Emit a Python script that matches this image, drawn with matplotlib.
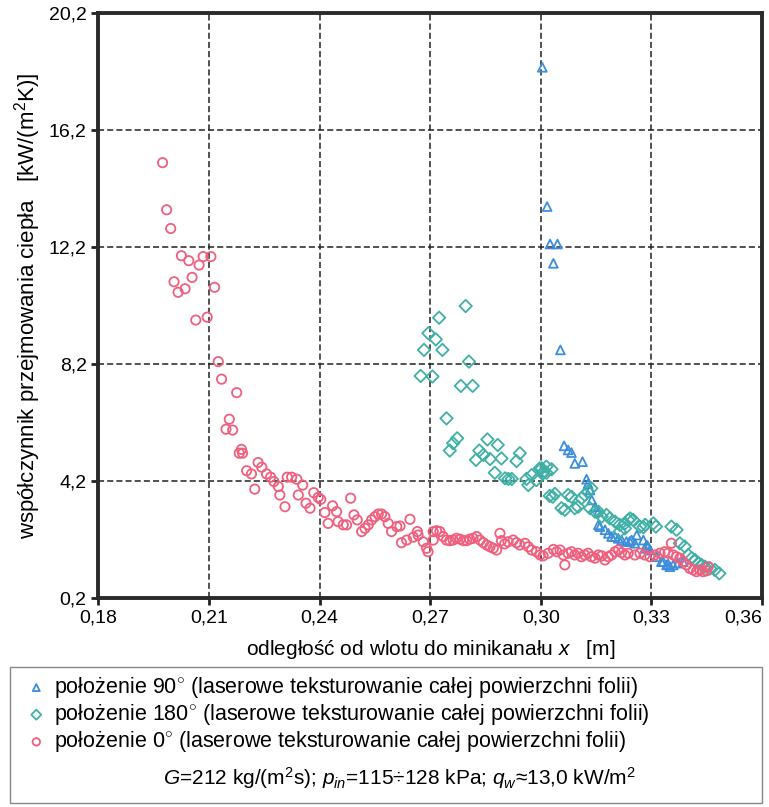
import matplotlib.pyplot as plt
from matplotlib.patches import Rectangle

plt.rcParams['font.family'] = ['Liberation Sans', 'DejaVu Sans']
plt.rcParams['mathtext.fontset'] = 'custom'
plt.rcParams['mathtext.rm'] = 'Liberation Sans'
plt.rcParams['mathtext.it'] = 'Liberation Sans:italic'

# polozenie 90 (triangles)
x90 = [0.3004, 0.3017, 0.3025, 0.3045, 0.3034, 0.3053, 0.3063, 0.3074, 0.3083, 0.3092,
       0.3113, 0.3124, 0.3128, 0.3133, 0.3138, 0.3147, 0.3156, 0.3156, 0.3160, 0.3174,
       0.3183, 0.3192, 0.3201, 0.3210, 0.3219, 0.3232, 0.3241, 0.3246, 0.3255, 0.3260,
       0.3278, 0.3282, 0.3287, 0.3291, 0.3296, 0.3314, 0.3327, 0.3332, 0.3341, 0.3345,
       0.3350, 0.3359, 0.3372, 0.3386]
y90 = [18.34, 13.58, 12.30, 12.30, 11.64, 8.68, 5.40, 5.26, 5.17, 4.80,
       4.86, 4.26, 4.10, 3.89, 3.55, 3.32, 3.15, 2.70, 2.64, 2.53,
       2.41, 2.30, 2.30, 2.24, 2.18, 2.13, 2.13, 2.18, 2.07, 2.35,
       2.18, 1.90, 2.01, 1.96, 1.84, 1.61, 1.44, 1.44, 1.33, 1.36,
       1.27, 1.33, 1.39, 1.44]

# polozenie 180 (diamonds)
x180 = [0.2796, 0.2724, 0.2695, 0.2715, 0.2683, 0.2733, 0.2805, 0.2674, 0.2706, 0.2783,
        0.2815, 0.2744, 0.2773, 0.2762, 0.2753, 0.2855, 0.2883, 0.2833, 0.2844, 0.2824,
        0.2862, 0.2893, 0.2943, 0.2934, 0.2875, 0.2903, 0.2912, 0.2921, 0.2961, 0.2975,
        0.2988, 0.2997, 0.3008, 0.3015, 0.2966, 0.3002, 0.3015, 0.3029, 0.3006, 0.3024,
        0.3032, 0.3038, 0.3074, 0.3083, 0.3056, 0.3065, 0.3092, 0.3101, 0.3110, 0.3119,
        0.3128, 0.3137, 0.3133, 0.3147, 0.3156, 0.3165, 0.3178, 0.3187, 0.3201, 0.3214,
        0.3228, 0.3237, 0.3242, 0.3214, 0.3228, 0.3269, 0.3278, 0.3250, 0.3283, 0.3305,
        0.3312, 0.3354, 0.3368, 0.3377, 0.3390, 0.3400, 0.3409, 0.3418, 0.3427, 0.3436,
        0.3445, 0.3459, 0.3472, 0.3484]
y180 = [10.18, 9.78, 9.25, 9.04, 8.68, 8.68, 8.28, 7.79, 7.77, 7.45,
        7.45, 6.34, 5.66, 5.49, 5.24, 5.62, 5.43, 5.24, 5.09, 4.92,
        4.95, 4.97, 5.15, 4.88, 4.48, 4.29, 4.27, 4.27, 4.27, 4.40,
        4.23, 4.63, 4.52, 4.48, 4.06, 4.63, 4.69, 4.60, 4.46, 3.69,
        3.66, 3.76, 3.72, 3.66, 3.27, 3.21, 3.27, 3.32, 3.61, 3.72,
        3.84, 3.95, 3.27, 3.15, 3.15, 2.98, 3.04, 2.92, 2.81, 2.70,
        2.75, 2.87, 2.92, 2.47, 2.58, 2.64, 2.62, 2.87, 2.70, 2.75,
        2.64, 2.64, 2.53, 2.07, 1.96, 1.67, 1.56, 1.50, 1.39, 1.33,
        1.27, 1.21, 1.16, 1.04]

# polozenie 0 (circles)
x0 = [0.1974, 0.1985, 0.1996, 0.2005, 0.2016, 0.2025, 0.2035, 0.2045, 0.2054, 0.2064,
      0.2073, 0.2084, 0.2095, 0.2105, 0.2115, 0.2125, 0.2134, 0.2146, 0.2155, 0.2164,
      0.2175, 0.2188, 0.2182, 0.2191, 0.2202, 0.2215, 0.2224, 0.2233, 0.2243, 0.2256,
      0.2267, 0.2276, 0.2288, 0.2292, 0.2306, 0.2312, 0.2324, 0.2338, 0.2342, 0.2354,
      0.2363, 0.2374, 0.2384, 0.2396, 0.2403, 0.2414, 0.2423, 0.2435, 0.2446, 0.2450,
      0.2464, 0.2473, 0.2484, 0.2493, 0.2502, 0.2514, 0.2523, 0.2532, 0.2541, 0.2550,
      0.2559, 0.2568, 0.2577, 0.2586, 0.2595, 0.2609, 0.2618, 0.2622, 0.2636, 0.2645,
      0.2654, 0.2667, 0.2665, 0.2681, 0.2690, 0.2694, 0.2708, 0.2717, 0.2726, 0.2708,
      0.2735, 0.2744, 0.2753, 0.2762, 0.2771, 0.2781, 0.2790, 0.2799, 0.2807, 0.2816,
      0.2826, 0.2835, 0.2844, 0.2853, 0.2862, 0.2871, 0.2880, 0.2889, 0.2893, 0.2902,
      0.2911, 0.2925, 0.2934, 0.2943, 0.2957, 0.2966, 0.2975, 0.2988, 0.2998, 0.3006,
      0.3020, 0.3034, 0.3043, 0.3052, 0.3061, 0.3065, 0.3074, 0.3083, 0.3092, 0.3101,
      0.3110, 0.3119, 0.3128, 0.3137, 0.3147, 0.3156, 0.3165, 0.3174, 0.3183, 0.3192,
      0.3201, 0.3210, 0.3219, 0.3228, 0.3237, 0.3255, 0.3269, 0.3282, 0.3296, 0.3309,
      0.3323, 0.3336, 0.3345, 0.3354, 0.3359, 0.3368, 0.3377, 0.3386, 0.3395, 0.3404,
      0.3413, 0.3422, 0.3431, 0.3440, 0.3449, 0.3454]
y0 = [15.08, 13.47, 12.83, 11.01, 10.65, 11.90, 10.77, 11.73, 11.16, 9.70,
      11.58, 11.87, 9.80, 11.87, 10.82, 8.28, 7.68, 5.97, 6.31, 5.94,
      7.22, 5.28, 5.15, 5.15, 4.55, 4.44, 3.92, 4.83, 4.67, 4.44,
      4.33, 4.18, 4.01, 3.72, 3.32, 4.33, 4.33, 4.26, 3.72, 4.06,
      3.44, 3.27, 3.80, 3.64, 3.57, 3.12, 2.75, 3.35, 3.15, 2.81,
      2.70, 2.70, 3.61, 3.04, 2.87, 2.47, 2.58, 2.70, 2.87, 2.98,
      3.07, 3.07, 2.98, 2.75, 2.47, 2.64, 2.66, 2.09, 2.18, 2.89,
      2.28, 2.35, 2.47, 2.12, 1.90, 1.78, 2.47, 2.50, 2.47, 2.18,
      2.30, 2.18, 2.16, 2.18, 2.24, 2.21, 2.16, 2.16, 2.21, 2.24,
      2.30, 2.18, 2.09, 2.01, 1.95, 1.90, 1.84, 2.41, 2.16, 2.05,
      2.12, 2.18, 2.09, 2.01, 2.07, 1.95, 1.84, 1.78, 1.67, 1.64,
      1.73, 1.86, 1.78, 1.84, 1.67, 1.33, 1.73, 1.78, 1.67, 1.73,
      1.61, 1.67, 1.73, 1.61, 1.56, 1.67, 1.64, 1.50, 1.61, 1.67,
      1.78, 1.84, 1.75, 1.67, 1.73, 1.67, 1.73, 1.67, 1.61, 1.67,
      1.73, 1.78, 1.73, 2.07, 1.67, 1.61, 1.56, 1.44, 1.33, 1.21,
      1.16, 1.10, 1.16, 1.10, 1.13, 1.27]

xticks = [0.18, 0.21, 0.24, 0.27, 0.30, 0.33, 0.36]
xlabels = ['0,18', '0,21', '0,24', '0,27', '0,30', '0,33', '0,36']
yticks = [0.2, 4.2, 8.2, 12.2, 16.2, 20.2]
ylabels = ['0,2', '4,2', '8,2', '12,2', '16,2', '20,2']

c90 = '#3c8edc'
c180 = '#3fb0a6'
c0 = '#f0607e'
tail = ' (laserowe teksturowanie całej powierzchni folii)'

fig = plt.figure(figsize=(7.69, 8.07), dpi=100)
ax = fig.add_axes([0.128, 0.259, 0.863, 0.725])

ax.scatter(x90, y90, s=40, marker='^', facecolors='none', edgecolors=c90, linewidths=1.3,
           label='położenie 90$^{\\circ}$' + tail)
ax.scatter(x180, y180, s=40, marker='D', facecolors='none', edgecolors=c180, linewidths=1.3,
           label='położenie 180$^{\\circ}$' + tail)
ax.scatter(x0, y0, s=45, marker='o', facecolors='none', edgecolors=c0, linewidths=1.3,
           label='położenie 0$^{\\circ}$' + tail)

ax.set_xlim(0.18, 0.36)
ax.set_ylim(0.2, 20.2)
ax.set_xticks(xticks)
ax.set_xticklabels(xlabels)
ax.set_yticks(yticks)
ax.set_yticklabels(ylabels)
ax.tick_params(labelsize=14, length=5, width=2, color='#222222', direction='out')
ax.get_xticklabels()[-1].set_horizontalalignment('right')
ax.grid(True, color='#222222', linestyle=(0, (4, 2)), linewidth=1.1)
ax.set_axisbelow(True)
for sp in ax.spines.values():
    sp.set_linewidth(2.8)
    sp.set_color('#2a2a2a')

ax.set_xlabel('odległość od wlotu do minikanału $x$   [m]', fontsize=15, labelpad=8)
ax.set_ylabel('współczynnik przejmowania ciepła   [kW/(m$^2$K)]', fontsize=16, labelpad=4)

h, l = ax.get_legend_handles_labels()
fig.legend(h, l, loc='upper left', bbox_to_anchor=(0.022, 0.174),
           frameon=False, fontsize=15.5, handletextpad=0.3, labelspacing=0.1,
           handlelength=1.0, markerscale=0.8, borderaxespad=0.0)

fig.patches.append(Rectangle((0.013, 0.005), 0.978, 0.168, transform=fig.transFigure,
                             fill=False, edgecolor='#888888', linewidth=1.0))
fig.text(0.52, 0.036, '$G$=212 kg/(m$^2$s); $p_{in}$=115÷128 kPa; $q_w$≈13,0 kW/m$^2$',
         ha='center', va='center', fontsize=15)

fig.savefig('out.png', dpi=100)
